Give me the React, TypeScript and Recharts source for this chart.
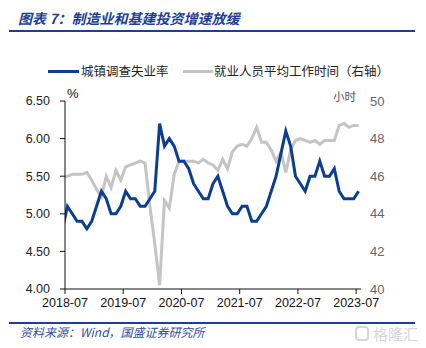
import { LineChart, Line, XAxis, YAxis } from "recharts";

// monthly, 2018-06 .. 2023-07 (first point sits just left of the axis and is clipped)
const months = [
  "2018-06", "2018-07", "2018-08", "2018-09", "2018-10", "2018-11", "2018-12",
  "2019-01", "2019-02", "2019-03", "2019-04", "2019-05", "2019-06", "2019-07", "2019-08", "2019-09", "2019-10", "2019-11", "2019-12",
  "2020-01", "2020-02", "2020-03", "2020-04", "2020-05", "2020-06", "2020-07", "2020-08", "2020-09", "2020-10", "2020-11", "2020-12",
  "2021-01", "2021-02", "2021-03", "2021-04", "2021-05", "2021-06", "2021-07", "2021-08", "2021-09", "2021-10", "2021-11", "2021-12",
  "2022-01", "2022-02", "2022-03", "2022-04", "2022-05", "2022-06", "2022-07", "2022-08", "2022-09", "2022-10", "2022-11", "2022-12",
  "2023-01", "2023-02", "2023-03", "2023-04", "2023-05", "2023-06", "2023-07",
];

// 城镇调查失业率 (%)
const unemployment = [
  4.8, 5.1, 5.0, 4.9, 4.9, 4.8, 4.9,
  5.1, 5.3, 5.2, 5.0, 5.0, 5.1, 5.3, 5.2, 5.2, 5.1, 5.1, 5.2,
  5.3, 6.2, 5.9, 6.0, 5.9, 5.7, 5.7, 5.6, 5.4, 5.3, 5.2, 5.2,
  5.4, 5.5, 5.3, 5.1, 5.0, 5.0, 5.1, 5.1, 4.9, 4.9, 5.0, 5.1,
  5.3, 5.5, 5.8, 6.1, 5.9, 5.5, 5.4, 5.3, 5.5, 5.5, 5.7, 5.5,
  5.5, 5.6, 5.3, 5.2, 5.2, 5.2, 5.3,
];

// 就业人员平均工作时间 (小时, right axis)
const workHours = [
  45.9, 46.0, 46.1, 46.1, 46.1, 46.2, 45.8,
  45.3, 44.9, 46.0, 45.4, 46.3, 45.8, 46.5, 46.6, 46.7, 46.8, 46.7, 44.4,
  42.4, 40.2, 44.7, 44.3, 46.1, 46.8, 46.8, 46.8, 46.8, 46.7, 46.9, 46.7,
  46.6, 46.3, 46.9, 46.4, 47.3, 47.6, 47.7, 47.6, 48.0, 48.6, 47.8, 47.8,
  47.4, 46.8, 47.3, 46.2, 47.4, 47.9, 48.0, 47.9, 47.8, 47.9, 47.7, 47.9,
  47.9, 47.9, 48.7, 48.8, 48.6, 48.7, 48.7,
];

const tickLabels = ["2018-07", "2019-07", "2020-07", "2021-07", "2022-07", "2023-07"];
const rateTicks = [4, 4.5, 5, 5.5, 6, 6.5];
const hourTicks = [40, 42, 44, 46, 48, 50];

const data = months.map((month, i) => ({
  idx: i - 1,
  month,
  rate: unemployment[i],
  hours: workHours[i],
}));

// tick marks sit half a month before the labelled point
const xTicks = tickLabels.map((l) => months.indexOf(l) - 1.5);

const BLUE = "#0b3e91";
const GRAY = "#c4c4c4";
const NAVY = "#1c3f94";
const cjk = '"Noto Sans CJK SC", sans-serif';
const latin = '"Liberation Sans", Arial, sans-serif';

export default function App() {
  return (
    <div
      style={{
        position: "absolute",
        left: 0,
        top: 0,
        width: 426,
        height: 348,
        background: "#fff",
        overflow: "hidden",
      }}
    >
      <div
        style={{
          position: "absolute",
          left: 18,
          top: 8,
          fontFamily: cjk,
          fontSize: 14,
          fontWeight: 700,
          fontStyle: "italic",
          color: NAVY,
          lineHeight: "20px",
          whiteSpace: "nowrap",
        }}
      >
        图表 7：制造业和基建投资增速放缓
      </div>
      <div style={{ position: "absolute", left: 9, top: 30, width: 406, height: 2, background: NAVY }} />

      {/* legend */}
      <div style={{ position: "absolute", left: 48, top: 70, width: 31, height: 3, background: BLUE }} />
      <div
        style={{
          position: "absolute",
          left: 81,
          top: 62,
          fontFamily: cjk,
          fontSize: 12.5,
          lineHeight: "18px",
          color: "#222",
          whiteSpace: "nowrap",
        }}
      >
        城镇调查失业率
      </div>
      <div style={{ position: "absolute", left: 183, top: 70, width: 30, height: 3, background: GRAY }} />
      <div
        style={{
          position: "absolute",
          left: 214,
          top: 62,
          fontFamily: cjk,
          fontSize: 12.5,
          lineHeight: "18px",
          color: "#222",
          whiteSpace: "nowrap",
        }}
      >
        就业人员平均工作时间（右轴）
      </div>

      <div
        style={{
          position: "absolute",
          left: 67,
          top: 86,
          fontFamily: latin,
          fontSize: 13,
          lineHeight: "16px",
          color: "#111",
        }}
      >
        %
      </div>
      <div
        style={{
          position: "absolute",
          left: 333,
          top: 88,
          fontFamily: cjk,
          fontSize: 11.5,
          lineHeight: "16px",
          color: "#555",
          whiteSpace: "nowrap",
        }}
      >
        小时
      </div>

      <div style={{ position: "absolute", left: 0, top: 0 }}>
        <LineChart width={426} height={348} data={data} margin={{ top: 101, right: 5, bottom: 34, left: 15 }}>
          <XAxis
            dataKey="idx"
            type="number"
            domain={[-0.5, 60.5]}
            allowDataOverflow
            ticks={xTicks}
            interval={0}
            tickFormatter={(v) => tickLabels[xTicks.indexOf(v)] ?? ""}
            tick={{ fill: "#111", fontSize: 12.5, fontFamily: latin }}
            axisLine={{ stroke: "#111" }}
            tickLine={{ stroke: "#111" }}
            tickSize={5}
            tickMargin={4}
            height={25}
          />
          <YAxis
            yAxisId="left"
            domain={[4, 6.5]}
            ticks={rateTicks}
            interval={0}
            tickFormatter={(v) => Number(v).toFixed(2)}
            tick={{ fill: "#222", fontSize: 12.5, fontFamily: latin }}
            axisLine={{ stroke: "#111" }}
            tickLine={{ stroke: "#111" }}
            tickSize={5}
            tickMargin={10}
            width={50}
          />
          <YAxis
            yAxisId="right"
            orientation="right"
            domain={[40, 50]}
            ticks={hourTicks}
            interval={0}
            tick={{ fill: "#666", fontSize: 13, fontFamily: latin, textAnchor: "start" }}
            axisLine={false}
            tickLine={false}
            tickSize={0}
            tickMargin={9}
            width={60}
          />
          <Line
            yAxisId="right"
            type="linear"
            dataKey="hours"
            stroke={GRAY}
            strokeWidth={3}
            dot={false}
            isAnimationActive={false}
          />
          <Line
            yAxisId="left"
            type="linear"
            dataKey="rate"
            stroke={BLUE}
            strokeWidth={3}
            dot={false}
            isAnimationActive={false}
          />
        </LineChart>
      </div>

      {/* source */}
      <div style={{ position: "absolute", left: 9, top: 322, width: 406, height: 2, background: NAVY }} />
      <div
        style={{
          position: "absolute",
          left: 20,
          top: 325,
          fontFamily: cjk,
          fontSize: 12,
          fontStyle: "italic",
          lineHeight: "14px",
          color: "#2f4f9e",
          whiteSpace: "nowrap",
        }}
      >
        资料来源：Wind，国盛证券研究所
      </div>
      <div
        style={{
          position: "absolute",
          left: 355,
          top: 326,
          width: 14,
          height: 15,
          border: "2px solid #d6d6d6",
          borderRadius: 4,
          boxSizing: "border-box",
        }}
      />
      <div
        style={{
          position: "absolute",
          left: 373,
          top: 324,
          fontFamily: cjk,
          fontSize: 15,
          lineHeight: "20px",
          color: "#d6d6d6",
          whiteSpace: "nowrap",
        }}
      >
        格隆汇
      </div>
    </div>
  );
}
